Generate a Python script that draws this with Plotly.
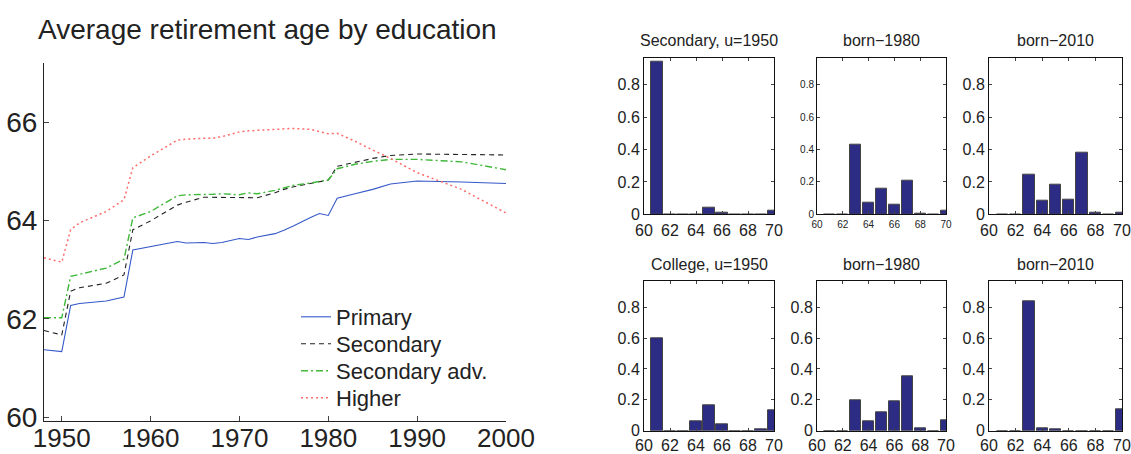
import plotly.graph_objects as go

# ---------------- data: left line chart ----------------
years = [1948, 1950, 1951, 1952, 1955, 1957, 1958, 1960, 1963, 1964, 1966, 1967,
         1968, 1970, 1971, 1972, 1974, 1975, 1976, 1978, 1979, 1980, 1981, 1983,
         1985, 1987, 1990, 1995, 2000]
primary = [61.37, 61.33, 62.27, 62.31, 62.36, 62.44, 63.40, 63.47, 63.57, 63.54, 63.55, 63.53,
           63.55, 63.63, 63.61, 63.66, 63.73, 63.80, 63.88, 64.06, 64.14, 64.10, 64.45, 64.54,
           64.63, 64.74, 64.80, 64.78, 64.75]
secondary = [61.76, 61.67, 62.56, 62.63, 62.72, 62.89, 63.81, 63.99, 64.31, 64.37, 64.47, 64.47,
             64.47, 64.46, 64.46, 64.46, 64.56, 64.63, 64.68, 64.75, 64.78, 64.82, 65.10, 65.18,
             65.26, 65.32, 65.35, 65.34, 65.33]
secondary_adv = [62.02, 62.02, 62.86, 62.90, 63.03, 63.21, 64.05, 64.18, 64.50, 64.52, 64.52, 64.53,
                 64.54, 64.52, 64.56, 64.54, 64.61, 64.66, 64.71, 64.76, 64.79, 64.82, 65.05, 65.14,
                 65.20, 65.24, 65.24, 65.19, 65.03]
higher = [63.24, 63.15, 63.81, 63.95, 64.18, 64.42, 65.07, 65.31, 65.63, 65.65, 65.67, 65.67,
          65.70, 65.80, 65.82, 65.83, 65.85, 65.86, 65.87, 65.85, 65.80, 65.76, 65.77, 65.61,
          65.43, 65.26, 64.97, 64.63, 64.15]
line_names = ["Primary", "Secondary", "Secondary adv.", "Higher"]

# ---------------- data: histograms ----------------
ages = [61, 62, 63, 64, 65, 66, 67, 68, 69, 70]
sec_1950 = [0.94, 0, 0, 0, 0.04, 0.01, 0, 0, 0, 0.02]
sec_1980 = [0, 0, 0.43, 0.072, 0.158, 0.058, 0.21, 0.006, 0, 0.024]
sec_2010 = [0, 0, 0.245, 0.085, 0.18, 0.09, 0.38, 0.012, 0, 0.012]
col_1950 = [0.60, 0, 0, 0.06, 0.165, 0.04, 0, 0, 0.01, 0.13]
col_1980 = [0, 0, 0.20, 0.06, 0.12, 0.19, 0.35, 0.015, 0, 0.07]
col_2010 = [0, 0, 0.84, 0.015, 0.01, 0, 0, 0, 0, 0.14]
hist_titles = ["Secondary, u=1950", "born\u22121980", "born\u22122010",
               "College, u=1950", "born\u22121980", "born\u22122010"]
hist_data = [sec_1950, sec_1980, sec_2010, col_1950, col_1980, col_2010]
hist_ticks = [60, 62, 64, 66, 68, 70]

FONT = "Liberation Sans, Arial, Helvetica, sans-serif"
W, H = 1131, 454

fig = go.Figure()

styles = [
    dict(color="#3558c8", width=1.1, dash="solid"),
    dict(color="#222222", width=1.1, dash="5px,4px"),
    dict(color="#3fb83a", width=1.4, dash="7px,3px,2px,3px"),
    dict(color="#ff6b6b", width=1.5, dash="2px,3px"),
]
legend_rows = [317, 344, 371, 398]
legend_ids = ["legend", "legend2", "legend3", "legend4"]
for name, vals, st, lid in zip(line_names, [primary, secondary, secondary_adv, higher], styles, legend_ids):
    fig.add_trace(go.Scatter(x=years, y=vals, mode="lines", name=name, line=st,
                             xaxis="x", yaxis="y", legend=lid))

layout = dict(
    width=W, height=H, margin=dict(l=0, r=0, t=0, b=0, autoexpand=False),
    paper_bgcolor="white", plot_bgcolor="white",
    font=dict(family=FONT, color="#222222"),
    showlegend=True,
    xaxis=dict(domain=[44 / W, 506 / W], range=[1948, 2000], anchor="y", automargin=False,
               tickvals=[1950, 1960, 1970, 1980, 1990, 2000], ticks="inside", ticklen=5,
               showline=True, linecolor="#222", linewidth=1, mirror=False, showgrid=False,
               zeroline=False, tickfont=dict(size=26), ticklabelstandoff=-6),
    yaxis=dict(domain=[1 - 421 / H, 1 - 63 / H], range=[59.92, 67.2], anchor="x", automargin=False,
               tickvals=[60, 62, 64, 66], ticks="inside", ticklen=5,
               showline=True, linecolor="#222", linewidth=1, mirror=False, showgrid=False,
               zeroline=False, tickfont=dict(size=28), ticklabelstandoff=0),
)
for lid, ry in zip(legend_ids, legend_rows):
    layout[lid] = dict(x=296 / W, y=1 - ry / H, xanchor="left", yanchor="middle",
                       bgcolor="rgba(0,0,0,0)", borderwidth=0,
                       font=dict(size=22, family=FONT, color="#222"), itemwidth=30)

annotations = [dict(text="Average retirement age by education", xref="paper", yref="paper",
                    x=36 / W, y=1 - 30 / H, xanchor="left", yanchor="middle", showarrow=False,
                    font=dict(size=28, family=FONT, color="#222"))]

col_x = [(644, 774), (817, 946), (989, 1122)]
row_y = [(57.7, 214.3), (281.3, 430.8)]
title_y = [40, 264]

for i, (vals, title) in enumerate(zip(hist_data, hist_titles)):
    r, c = divmod(i, 3)
    n = i + 2
    xa, ya = f"xaxis{n}", f"yaxis{n}"
    x0, x1 = col_x[c]
    y0, y1 = row_y[r]
    fsize = 10 if i == 1 else 16
    fig.add_trace(go.Bar(x=ages, y=vals, width=0.85, xaxis=f"x{n}", yaxis=f"y{n}",
                         marker=dict(color="#2c2c84", line=dict(color="#444", width=1)),
                         showlegend=False))
    layout[xa] = dict(domain=[x0 / W, x1 / W], range=[60, 70], anchor=f"y{n}", automargin=False,
                      tickvals=hist_ticks, ticks="inside", ticklen=3,
                      showline=True, linecolor="#111", linewidth=1, mirror="ticks",
                      showgrid=False, zeroline=False, tickfont=dict(size=fsize),
                      ticklabelstandoff=1 if r == 0 else 0)
    layout[ya] = dict(domain=[1 - y1 / H, 1 - y0 / H], range=[0, 0.967], anchor=f"x{n}",
                      automargin=False,
                      tickvals=[0, 0.2, 0.4, 0.6, 0.8], ticktext=["0", "0.2", "0.4", "0.6", "0.8"],
                      ticks="inside", ticklen=3,
                      showline=True, linecolor="#111", linewidth=1, mirror="ticks",
                      showgrid=False, zeroline=False, tickfont=dict(size=fsize))
    annotations.append(dict(text=title, xref="paper", yref="paper",
                            x=(x0 + x1) / 2 / W, y=1 - title_y[r] / H,
                            xanchor="center", yanchor="middle", showarrow=False,
                            font=dict(size=16, family=FONT, color="#222")))

layout["annotations"] = annotations
layout["bargap"] = 0
fig.update_layout(**layout)
fig.write_html("out.html")
